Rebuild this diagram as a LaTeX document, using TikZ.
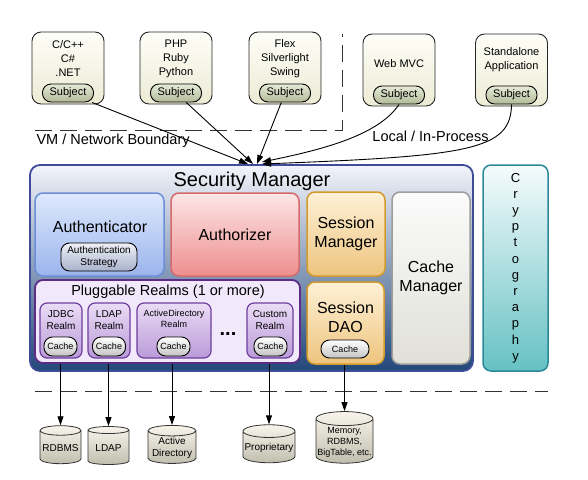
\documentclass[tikz,border=0pt]{standalone}
\usepackage{fontspec}
\setmainfont{Liberation Sans}
\usetikzlibrary{positioning,shapes.geometric,arrows.meta}

\definecolor{creamtop}{HTML}{FEFEF8}
\definecolor{creambot}{HTML}{ECEBD5}
\definecolor{subjtop}{HTML}{E6EAD8}
\definecolor{subjbot}{HTML}{B2BA98}
\definecolor{smtop}{HTML}{F2F4FA}
\definecolor{smbot}{HTML}{22477A}
\definecolor{smline}{HTML}{3E4C9A}
\definecolor{authctop}{HTML}{DEE9FD}
\definecolor{authcbot}{HTML}{9BB4EC}
\definecolor{authcline}{HTML}{6C8DD8}
\definecolor{strattop}{HTML}{EEF0F6}
\definecolor{stratbot}{HTML}{A9B2CC}
\definecolor{authztop}{HTML}{FDE6E6}
\definecolor{authzbot}{HTML}{EE8E8E}
\definecolor{authzline}{HTML}{D46A6A}
\definecolor{sesstop}{HTML}{FEF1D6}
\definecolor{sessbot}{HTML}{EEC47E}
\definecolor{sessline}{HTML}{D39B2C}
\definecolor{cmtop}{HTML}{FBFBFB}
\definecolor{cmbot}{HTML}{E0E0D8}
\definecolor{cmline}{HTML}{9C9C9C}
\definecolor{realmsfill}{HTML}{F1E8FB}
\definecolor{realmsline}{HTML}{5C2C86}
\definecolor{realmtop}{HTML}{EADCF6}
\definecolor{realmbot}{HTML}{BA9AD8}
\definecolor{realmline}{HTML}{6E3E9E}
\definecolor{cachebot}{HTML}{C4C4C4}
\definecolor{crytop}{HTML}{F6FBFD}
\definecolor{crybot}{HTML}{66C1C3}
\definecolor{cryline}{HTML}{2B8999}
\definecolor{dbtop}{HTML}{F8F6EC}
\definecolor{dbbot}{HTML}{C0BEAE}

\newcommand{\fs}[2]{\fontsize{#1}{#2}\selectfont}

\begin{document}
\begin{tikzpicture}[x=1pt,y=-1pt,
    box/.style={draw,rounded corners=8pt,line width=1.5pt,inner sep=1pt},
    client/.style={draw=black!85,line width=0.9pt,rounded corners=9pt,top color=creamtop,bottom color=creambot,minimum width=72pt,minimum height=72pt},
    ctext/.style={align=center,font=\fs{11}{14},inner sep=0pt},
    pill/.style={draw=black,line width=0.9pt,rounded corners=8.5pt,inner sep=0pt,align=center},
    subj/.style={pill,top color=subjtop,bottom color=subjbot,minimum width=51pt,minimum height=18pt,font=\fs{11}{13}},
    cache/.style={pill,top color=white,bottom color=cachebot,minimum width=33pt,minimum height=19pt,font=\fs{9}{11}},
    realm/.style={box,line width=1.2pt,draw=realmline,top color=realmtop,bottom color=realmbot,minimum height=55pt,rounded corners=7pt},
    rtext/.style={align=center,font=\fs{10}{12},inner sep=0pt},
    big/.style={align=center,font=\fs{16}{19}},
    db/.style={cylinder,shape border rotate=90,shape aspect=0.25,draw=black!80,line width=0.8pt,top color=dbtop,bottom color=dbbot,align=center,inner sep=1pt,font=\fs{10}{12}},
    arr/.style={-{Triangle[length=9pt,width=6pt]},line width=0.9pt},
    bound/.style={dash pattern=on 17pt off 8pt,line width=0.9pt,black!80},
  ]
  \useasboundingbox (0,0) rectangle (588,479);

  % clients
  \node[client] (cpp) at (68,68) {};
  \node[ctext] (cpptxt) at (68,59) {C/C++\\C\#\\.NET};
  \node[subj,above=2pt of cpp.south] (cppsub) {Subject};
  \node[client] (php) at (176,68) {};
  \node[ctext] (phptxt) at (176,59) {PHP\\Ruby\\Python};
  \node[subj,above=2pt of php.south] (phpsub) {Subject};
  \node[client] (flex) at (285,68) {};
  \node[ctext] (flextxt) at (285,59) {Flex\\Silverlight\\Swing};
  \node[subj,above=2pt of flex.south] (flexsub) {Subject};
  \node[client] (web) at (399,70) {};
  \node[ctext] (webtxt) at (399,64) {Web MVC};
  \node[subj,above=2pt of web.south] (websub) {Subject};
  \node[client] (sta) at (511.5,70) {};
  \node[ctext] (statxt) at (511.5,59.5) {Standalone\\Application};
  \node[subj,above=2pt of sta.south] (stasub) {Subject};

  % boundaries
  \draw[bound] (35,130) -- (342,130) -- (342,34);
  \draw[bound] (35,391) -- (548,391);
  \node[anchor=west,font=\fs{14.5}{16}] (vmlbl) at (33,141) {VM / Network Boundary};
  \node[font=\fs{14.5}{16}] (locallbl) at (430.5,136) {Local / In-Process};

  % security manager
  \node[box,draw=smline,line width=1.8pt,rounded corners=10pt,top color=smtop,bottom color=smbot,minimum width=443pt,minimum height=206pt] (sm) at (251.5,268) {};
  \node[font=\fs{20}{24}] (smtitle) at (252,181) {Security Manager};
  \coordinate (hub) at (255,164);

  \node[box,draw=authcline,top color=authctop,bottom color=authcbot,minimum width=129pt,minimum height=83pt] (authc) at (99.5,234.5) {};
  \node[big] (authctxt) at (100,227) {Authenticator};
  \node[pill,top color=strattop,bottom color=stratbot,minimum width=76pt,minimum height=28pt,font=\fs{10}{12}] (strat) at (99,257) {Authentication\\Strategy};

  \node[box,draw=authzline,top color=authztop,bottom color=authzbot,minimum width=128pt,minimum height=83pt,big] (authz) at (235,234.5) {Authorizer};
  \node[box,draw=sessline,top color=sesstop,bottom color=sessbot,minimum width=78pt,minimum height=84pt,big] (sessmgr) at (346,234) {Session\\Manager};
  \node[box,draw=sessline,top color=sesstop,bottom color=sessbot,minimum width=77pt,minimum height=82pt] (sessdao) at (345.5,323) {};
  \node[big] (daotxt) at (345.5,317) {Session\\DAO};
  \node[cache,minimum width=48pt,minimum height=18pt] (daocache) at (345,349) {Cache};
  \node[box,draw=cmline,top color=cmtop,bottom color=cmbot,minimum width=78pt,minimum height=172pt,big] (cachemgr) at (431,278) {Cache\\Manager};

  % realms
  \node[box,line width=1.8pt,draw=realmsline,fill=realmsfill,minimum width=265pt,minimum height=83pt] (realms) at (167.5,321.5) {};
  \node[font=\fs{14.5}{16}] (realmstxt) at (168,292) {Pluggable Realms (1 or more)};
  \node[realm,minimum width=42pt] (jdbc) at (61,330.5) {};
  \node[rtext] (jdbctxt) at (61,320) {JDBC\\Realm};
  \node[cache] (jdbccache) at (60.5,346.5) {Cache};
  \node[realm,minimum width=42pt] (ldapr) at (109,330.5) {};
  \node[rtext] (ldaptxt) at (109,320) {LDAP\\Realm};
  \node[cache] (ldapcache) at (109,346.5) {Cache};
  \node[realm,minimum width=74pt] (adr) at (174,330.5) {};
  \node[rtext,font=\fs{9}{11}] (adtxt) at (174,319) {ActiveDirectory\\Realm};
  \node[cache] (adcache) at (173.5,346.5) {Cache};
  \node[font=\fs{20}{20}\bfseries] (dots) at (228,334) {...};
  \node[realm,minimum width=46pt] (custr) at (270,330.5) {};
  \node[rtext] (custtxt) at (270,320) {Custom\\Realm};
  \node[cache] (custcache) at (270.5,346.5) {Cache};

  \node[box,draw=cryline,top color=crytop,bottom color=crybot,minimum width=65pt,minimum height=206pt,align=center,font=\fs{13}{16.2}] (crypto) at (515.5,268) {C\\r\\y\\p\\t\\o\\g\\r\\a\\p\\h\\y};

  % data stores
  \node[db,minimum width=41pt,minimum height=38pt] (rdbms) at (60.5,448) {RDBMS};
  \node[db,minimum width=41pt,minimum height=38pt] (ldap) at (108.5,448) {LDAP};
  \node[db,minimum width=48pt,minimum height=38pt] (ad) at (172,448) {Active\\Directory};
  \node[db,minimum width=52pt,minimum height=38pt] (prop) at (269,448) {Proprietary};
  \node[db,minimum width=57pt,minimum height=46pt,font=\fs{9}{11}] (mem) at (344.5,442) {Memory,\\RDBMS,\\BigTable, etc.};

  % connectors
  \path[arr]
    (cppsub) edge ([xshift=-7pt]hub)
    (phpsub) edge ([xshift=-2pt]hub)
    (flexsub) edge ([xshift=2pt]hub);
  \draw[arr] (websub.south) .. controls (378,136) and (320,150) .. ([xshift=7pt,yshift=2pt]hub);
  \draw[arr] (stasub.south) .. controls (511,150) and (470,156) .. ([xshift=7pt]hub);
  \path[arr]
    (rdbms.north |- realms.south) edge (rdbms.north)
    (ldap.north |- realms.south) edge (ldap.north)
    (ad.north |- realms.south) edge (ad.north)
    (prop.north |- realms.south) edge (prop.north)
    (mem.north |- sessdao.south) edge (mem.north);
\end{tikzpicture}
\end{document}
